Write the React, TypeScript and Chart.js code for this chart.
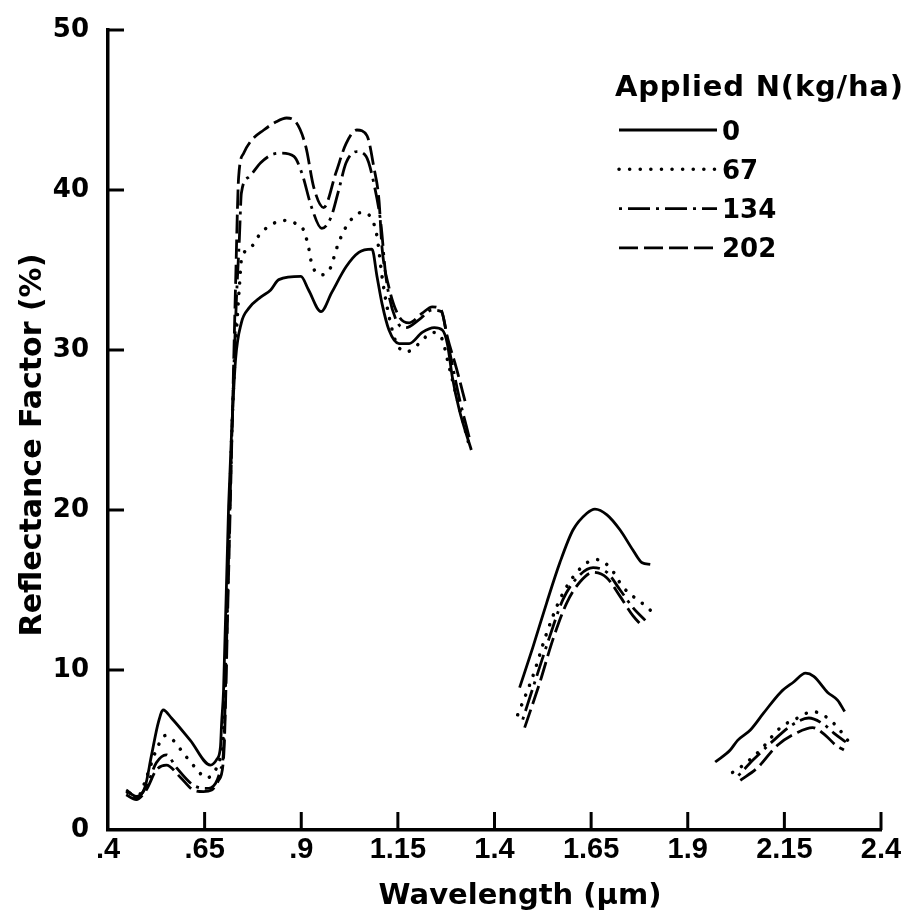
import React, { useEffect, useRef } from "react";
import { Chart, registerables } from "chart.js";

Chart.register(...registerables);

const W = 911;
const H = 917;

// Axis ticks
const xTickValues = [0.4, 0.65, 0.9, 1.15, 1.4, 1.65, 1.9, 2.15, 2.4];
const xTickLabels = [".4", ".65", ".9", "1.15", "1.4", "1.65", "1.9", "2.15", "2.4"];
const yTickValues = [0, 10, 20, 30, 40, 50];

// Texts
const legendTitle = "Applied N(kg/ha)";
const seriesLabels = ["0", "67", "134", "202"];
const xTitle = "Wavelength (µm)";
const yTitle = "Reflectance Factor (%)";

// Series: Applied N = 0 kg/ha (solid)
const wl0 = [
  0.447, 0.473, 0.496, 0.512, 0.53, 0.543, 0.564, 0.613, 0.665, 0.681, 0.691, 0.694, 0.699, 0.712, 0.719,
  0.73, 0.745, 0.764, 0.795, 0.821, 0.842, 0.899, 0.919, 0.951, 0.979, 1.016, 1.049, 1.083, 1.096, 1.109,
  1.127, 1.153, 1.179, 1.213, 1.244, 1.265, 1.278, 1.291, 1.309, 1.34,
  1.4,
  1.465, 1.499, 1.535, 1.569, 1.603, 1.639, 1.66, 1.691, 1.725, 1.758, 1.782, 1.803,
  1.9,
  1.971, 2.01, 2.029, 2.062, 2.096, 2.14, 2.174, 2.205, 2.226, 2.262, 2.288, 2.306,
];
const refl0 = [
  2.5, 2.1, 2.7, 4.6, 6.7, 7.5, 7.0, 5.6, 4.06, 4.4, 5.2, 6.7, 8.75, 20.2, 24.4,
  29.4, 31.7, 32.6, 33.3, 33.75, 34.4, 34.6, 33.75, 32.4, 33.6, 35.2, 36.1, 36.3, 34.6, 32.9,
  31.25, 30.4, 30.4, 31.1, 31.4, 31.25, 30.4, 28.3, 26.25, 23.75,
  null,
  8.9, 11.4, 14.2, 16.7, 18.75, 19.8, 20.06, 19.7, 18.75, 17.5, 16.7, 16.6,
  null,
  4.25, 5.0, 5.6, 6.25, 7.3, 8.6, 9.25, 9.8, 9.6, 8.6, 8.1, 7.4,
];

// Series: Applied N = 67 kg/ha (dotted)
const wl67 = [
  0.457, 0.48, 0.499, 0.525, 0.548, 0.569, 0.595, 0.626, 0.655, 0.678, 0.691, 0.699, 0.712, 0.722, 0.732,
  0.74, 0.745, 0.769, 0.795, 0.836, 0.86, 0.886, 0.906, 0.919, 0.927, 0.953, 0.977, 0.99, 1.016, 1.057,
  1.081, 1.096, 1.109, 1.122, 1.145, 1.174, 1.205, 1.239, 1.262, 1.283, 1.309, 1.335,
  1.4,
  1.46, 1.499, 1.535, 1.569, 1.603, 1.639, 1.665, 1.699, 1.732, 1.769, 1.797, 1.808,
  1.9,
  2.016, 2.044, 2.088, 2.14, 2.184, 2.223, 2.262, 2.288, 2.314,
];
const refl67 = [
  2.3, 2.2, 3.25, 5.0, 5.9, 5.6, 4.8, 3.9, 3.25, 3.75, 4.6, 6.25, 18, 26, 31,
  34, 35.6, 36.4, 37.3, 38.0, 38.1, 37.9, 37.5, 36.4, 35.4, 34.7, 35.2, 36.25, 37.7, 38.6,
  38.25, 37.1, 34.6, 32.7, 30.5, 29.9, 30.4, 31.1, 30.8, 28.9, 26.4, 24.0,
  null,
  7.2, 9.6, 12.3, 14.4, 15.8, 16.7, 16.9, 16.4, 15.2, 14.4, 13.9, 13.6,
  null,
  3.6, 4.06, 5.0, 6.4, 7.0, 7.4, 7.0, 6.4, 5.6,
];

// Series: Applied N = 134 kg/ha (dash-dot)
const wl134 = [
  0.447, 0.473, 0.499, 0.525, 0.551, 0.577, 0.621, 0.655, 0.678, 0.691, 0.699, 0.712, 0.722, 0.732, 0.74,
  0.745, 0.764, 0.795, 0.823, 0.849, 0.881, 0.901, 0.927, 0.953, 0.977, 0.997, 1.016, 1.044, 1.068, 1.088,
  1.106, 1.119, 1.145, 1.171, 1.205, 1.239, 1.262, 1.283, 1.309, 1.335,
  1.4,
  1.473, 1.509, 1.543, 1.577, 1.613, 1.655, 1.691, 1.725, 1.758, 1.79,
  1.9,
  2.031, 2.07, 2.122, 2.166, 2.213, 2.252, 2.278, 2.309,
];
const refl134 = [
  2.4, 2.0, 2.7, 4.2, 4.7, 3.9, 2.8, 2.6, 2.9, 3.75, 5.0, 17, 26, 33, 37,
  39.8, 40.8, 41.7, 42.2, 42.3, 42.1, 41.1, 38.9, 37.6, 38.3, 40.0, 41.7, 42.4, 42.1, 40.4,
  37.9, 34.6, 31.9, 31.4, 31.9, 32.5, 32.4, 30.0, 27.0, 24.5,
  null,
  6.9, 9.6, 12.1, 14.4, 15.75, 16.4, 16.1, 15.0, 13.9, 13.1,
  null,
  3.4, 4.4, 5.6, 6.5, 7.0, 6.6, 6.06, 5.5,
];

// Series: Applied N = 202 kg/ha (dashed)
const wl202 = [
  0.447, 0.473, 0.499, 0.525, 0.551, 0.587, 0.621, 0.647, 0.668, 0.686, 0.699, 0.712, 0.722, 0.73, 0.738,
  0.751, 0.771, 0.803, 0.834, 0.862, 0.886, 0.912, 0.932, 0.958, 0.99, 1.016, 1.044, 1.07, 1.088, 1.101,
  1.109, 1.127, 1.153, 1.179, 1.213, 1.239, 1.262, 1.278, 1.301, 1.327,
  1.4,
  1.478, 1.517, 1.551, 1.587, 1.621, 1.655, 1.691, 1.725, 1.758, 1.784,
  1.9,
  2.036, 2.081, 2.132, 2.184, 2.223, 2.257, 2.283, 2.304,
];
const refl202 = [
  2.2, 1.9, 2.5, 3.75, 4.06, 3.3, 2.5, 2.4, 2.5, 3.1, 4.5, 16, 26, 34, 40.8,
  42.3, 43.1, 43.75, 44.25, 44.5, 44.25, 42.7, 40.2, 38.9, 41.1, 42.9, 43.75, 43.4, 41.4, 39.4,
  36.4, 33.9, 32.1, 31.7, 32.3, 32.7, 32.5, 30.8, 28.9, 26.5,
  null,
  6.4, 9.2, 11.9, 14.2, 15.5, 16.1, 15.75, 14.6, 13.4, 12.7,
  null,
  3.1, 3.9, 5.3, 6.1, 6.4, 5.9, 5.3, 5.0,
];

const toPoints = (xs: number[], ys: (number | null)[]) => xs.map((x, i) => ({ x, y: ys[i] }));

const decorPlugin = {
  id: "decor",
  afterDraw(chart: any) {
    const { ctx, chartArea: a, scales } = chart;
    const xs = scales.x;
    const ys = scales.y;
    ctx.save();
    // inward tick marks
    ctx.strokeStyle = "#000";
    ctx.lineWidth = 3;
    ctx.lineCap = "butt";
    xs.ticks.forEach((t: any) => {
      if (t.value === xs.min) return;
      const px = xs.getPixelForValue(t.value);
      ctx.beginPath();
      ctx.moveTo(px, a.bottom);
      ctx.lineTo(px, a.bottom - 18);
      ctx.stroke();
    });
    ys.ticks.forEach((t: any) => {
      if (t.value === ys.min) return;
      const py = ys.getPixelForValue(t.value);
      ctx.beginPath();
      ctx.moveTo(a.left, py);
      ctx.lineTo(a.left + 16, py);
      ctx.stroke();
    });

    // axis titles
    ctx.fillStyle = "#000";
    ctx.textBaseline = "alphabetic";
    ctx.textAlign = "center";
    ctx.font = 'bold 29px "DejaVu Sans"';
    ctx.fillText(xTitle, 520, 904);
    ctx.save();
    ctx.translate(41, 445);
    ctx.rotate(-Math.PI / 2);
    ctx.font = 'bold 30px "DejaVu Sans"';
    ctx.fillText(yTitle, 0, 0);
    ctx.restore();

    // legend
    ctx.textAlign = "left";
    ctx.font = 'bold 29px "DejaVu Sans"';
    try { (ctx as any).letterSpacing = "0.8px"; } catch (e) {}
    ctx.fillText(legendTitle, 615, 96);
    try { (ctx as any).letterSpacing = "0px"; } catch (e) {}
    ctx.font = 'bold 26px "DejaVu Sans"';
    chart.data.datasets.forEach((ds: any, i: number) => {
      const cy = 130 + i * 39.3;
      ctx.save();
      ctx.strokeStyle = ds.borderColor;
      ctx.lineWidth = ds.borderWidth;
      ctx.lineCap = ds.borderCapStyle || "butt";
      ctx.setLineDash(ds.borderDash || []);
      ctx.beginPath();
      ctx.moveTo(619, cy);
      ctx.lineTo(717, cy);
      ctx.stroke();
      ctx.restore();
      ctx.fillText(ds.label, 722, cy + 9.5);
    });
    ctx.restore();
  },
};

export default function App() {
  const ref = useRef<HTMLCanvasElement>(null);
  useEffect(() => {
    document.body.style.margin = "0";
    const common = {
      borderColor: "#000",
      backgroundColor: "#000",
      pointRadius: 0,
      fill: false,
      cubicInterpolationMode: "monotone" as const,
      spanGaps: false,
    };
    const chart = new Chart(ref.current!, {
      type: "line",
      data: {
        datasets: [
          { ...common, label: seriesLabels[0], data: toPoints(wl0, refl0), borderWidth: 2.8, borderDash: [] },
          { ...common, label: seriesLabels[1], data: toPoints(wl67, refl67), borderWidth: 3.5, borderDash: [0.1, 10.5], borderCapStyle: "round" },
          { ...common, label: seriesLabels[2], data: toPoints(wl134, refl134), borderWidth: 2.8, borderDash: [3, 6, 22, 6] },
          { ...common, label: seriesLabels[3], data: toPoints(wl202, refl202), borderWidth: 2.8, borderDash: [19, 6] },
        ] as any,
      },
      options: {
        responsive: false,
        animation: false,
        devicePixelRatio: 1,
        layout: { padding: { top: 30, right: 30, left: 0, bottom: 0 } },
        plugins: { legend: { display: false }, tooltip: { enabled: false } },
        scales: {
          x: {
            type: "linear",
            min: 0.4,
            max: 2.4,
            afterBuildTicks: (s: any) => {
              s.ticks = xTickValues.map((v) => ({ value: v }));
            },
            afterFit: (s: any) => {
              s.height = 87;
            },
            ticks: {
              autoSkip: false,
              maxRotation: 0,
              padding: -5,
              color: "#000",
              font: { family: '"Liberation Sans", Arial, sans-serif', weight: "bold", size: 29 },
              callback: (v: any, i: number) => xTickLabels[i],
            },
            grid: { display: false },
            border: { display: true, color: "#000", width: 3.5 },
          },
          y: {
            type: "linear",
            min: 0,
            max: 50,
            afterBuildTicks: (s: any) => {
              s.ticks = yTickValues.map((v) => ({ value: v }));
            },
            afterFit: (s: any) => {
              s.width = 108;
            },
            ticks: {
              padding: 11,
              color: "#000",
              font: { family: '"DejaVu Sans", sans-serif', weight: "bold", size: 26 },
              callback: (v: any) => String(v),
            },
            grid: { display: false },
            border: { display: true, color: "#000", width: 3.5 },
          },
        },
      },
      plugins: [decorPlugin],
    });
    return () => chart.destroy();
  }, []);
  return (
    <div style={{ width: W, height: H, background: "#fff" }}>
      <canvas ref={ref} width={W} height={H} style={{ display: "block" }} />
    </div>
  );
}
